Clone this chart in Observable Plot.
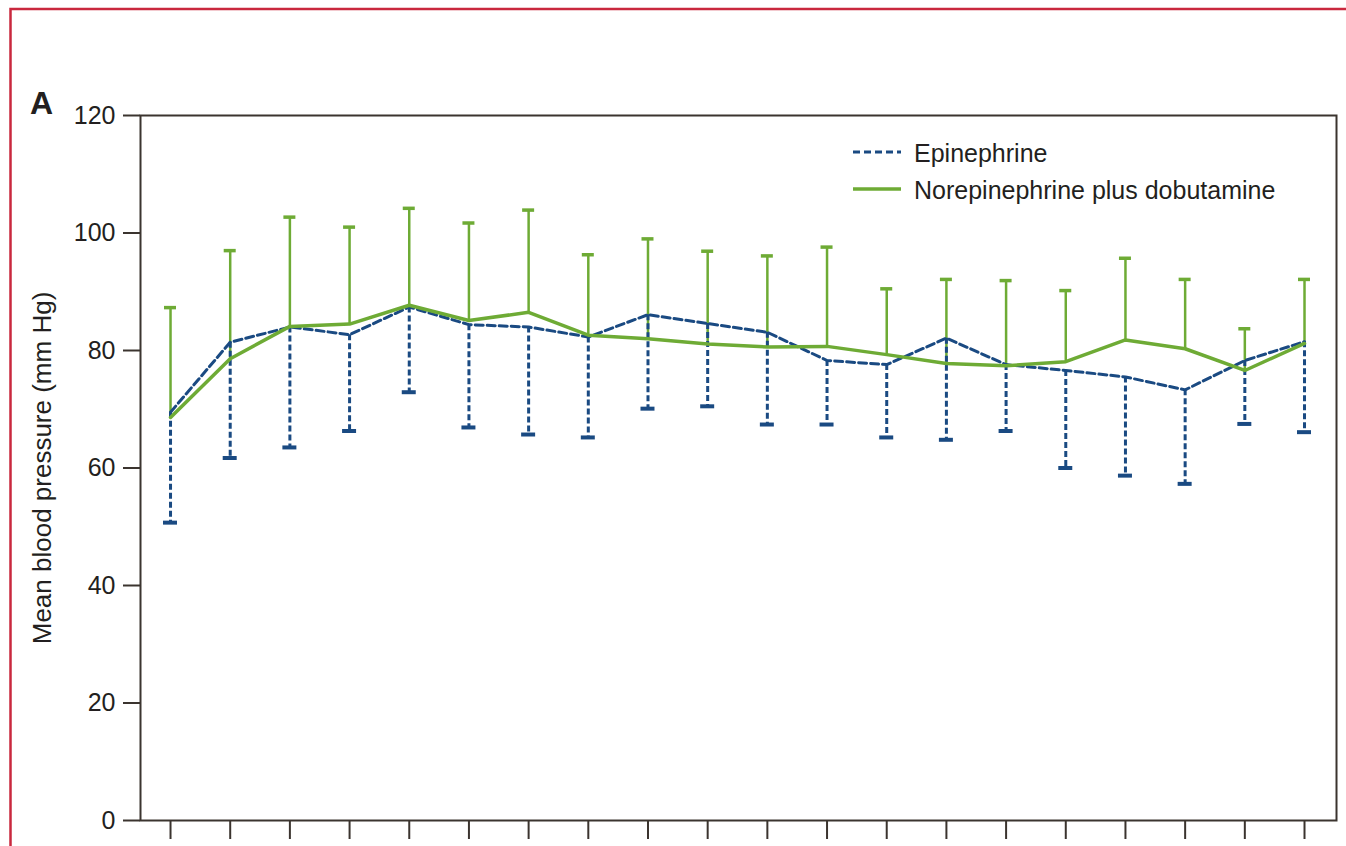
<!DOCTYPE html>
<html>
<head>
<meta charset="utf-8">
<script src="https://cdn.jsdelivr.net/npm/d3@7"></script>
<script src="https://cdn.jsdelivr.net/npm/@observablehq/plot@0.6"></script>
<style>
  html, body { margin: 0; padding: 0; background: #fff; overflow: hidden; }
  #wrap { position: relative; width: 1346px; height: 846px; }
  #wrap > svg.overlay { position: absolute; left: 0; top: 0; pointer-events: none; }
</style>
</head>
<body>
<div id="wrap"></div>
<script>
// Time points (x-axis tick positions; labels fall below the visible area)
const timepoints = [1, 2, 3, 4, 5, 6, 7, 8, 9, 10, 11, 12, 13, 14, 15, 16, 17, 18, 19, 20];

// Epinephrine: mean and lower SD limit (mm Hg)
const epiMean  = [69.5, 81.4, 84.0, 82.7, 87.4, 84.4, 84.0, 82.3, 86.1, 84.6, 83.1, 78.3, 77.6, 82.1, 77.6, 76.6, 75.5, 73.3, 78.3, 81.5];
const epiLower = [50.7, 61.7, 63.5, 66.3, 72.9, 66.9, 65.7, 65.2, 70.1, 70.5, 67.4, 67.4, 65.2, 64.8, 66.3, 60.0, 58.7, 57.3, 67.5, 66.1];

// Norepinephrine plus dobutamine: mean and upper SD limit (mm Hg)
const nordMean  = [68.6, 78.6, 84.1, 84.5, 87.7, 85.1, 86.5, 82.6, 82.0, 81.1, 80.6, 80.7, 79.3, 77.8, 77.4, 78.1, 81.8, 80.3, 76.6, 81.2];
const nordUpper = [87.3, 97.0, 102.7, 101.0, 104.2, 101.7, 103.9, 96.3, 99.0, 96.9, 96.1, 97.6, 90.5, 92.1, 91.9, 90.2, 95.7, 92.1, 83.7, 92.1];

const yTicks = [0, 20, 40, 60, 80, 100, 120];
const seriesNames = ["Epinephrine", "Norepinephrine plus dobutamine"];
const yTitle = "Mean blood pressure (mm Hg)";
const panelLabel = "A";

const blue = "#1a4a82";
const green = "#6eab35";
const ink = "#231f20";
const axisInk = "#3b342f";
const font = "'Liberation Sans', Arial, sans-serif";

const rows = timepoints.map((t, i) => ({
  t,
  epiMean: epiMean[i], epiLower: epiLower[i],
  nordMean: nordMean[i], nordUpper: nordUpper[i]
}));

const chart = Plot.plot({
  width: 1346,
  height: 846,
  marginLeft: 140,
  marginRight: 10,
  marginTop: 115,
  marginBottom: 26,
  style: { fontFamily: font, fontSize: "25px", color: ink, background: "transparent", overflow: "visible" },
  // half a step of room on either side of the first and last time point
  x: { type: "linear", domain: [0.497, 20.536] },
  y: { domain: [0, 120] },
  marks: [
    Plot.axisY({ ticks: yTicks, tickSize: 17, tickPadding: 8, stroke: axisInk, strokeWidth: 2, label: null, fill: ink }),
    Plot.axisX({ ticks: timepoints, tickSize: 19, tickFormat: () => "", stroke: axisInk, strokeWidth: 2, label: null }),
    Plot.frame({ stroke: axisInk, strokeWidth: 2 }),
    Plot.text([yTitle], {
      frameAnchor: "left", rotate: -90, dx: -98, lineAnchor: "middle", textAnchor: "middle",
      fontSize: 26, fill: ink
    }),

    // Norepinephrine plus dobutamine: upper error bars with caps
    Plot.ruleX(rows, { x: "t", y1: "nordMean", y2: "nordUpper", stroke: green, strokeWidth: 2.5 }),
    Plot.ruleY(rows, { x1: "t", x2: "t", y: "nordUpper", stroke: green, strokeWidth: 3.5, insetLeft: -6, insetRight: -6 }),

    // Epinephrine: lower dashed error bars with caps
    Plot.ruleX(rows, { x: "t", y1: "epiMean", y2: "epiLower", stroke: blue, strokeWidth: 3, strokeDasharray: "6,3" }),
    Plot.ruleY(rows, { x1: "t", x2: "t", y: "epiLower", stroke: blue, strokeWidth: 4, insetLeft: -7, insetRight: -7 }),

    // Mean lines
    Plot.line(rows, { x: "t", y: "epiMean", stroke: blue, strokeWidth: 3, strokeDasharray: "8,4" }),
    Plot.line(rows, { x: "t", y: "nordMean", stroke: green, strokeWidth: 3.5 })
  ]
});

const wrap = document.getElementById("wrap");
wrap.appendChild(chart);

// Page frame, panel letter and legend
const ov = d3.select(wrap).append("svg")
  .attr("class", "overlay")
  .attr("width", 1346).attr("height", 846)
  .style("font-family", font);

ov.append("path")
  .attr("d", "M10.5,846V9H1346")
  .attr("fill", "none")
  .attr("stroke", "#c9283e")
  .attr("stroke-width", 2.5);

ov.append("text")
  .attr("x", 30).attr("y", 114)
  .attr("font-size", 32).attr("font-weight", "bold")
  .attr("fill", ink)
  .text(panelLabel);

const legendStyles = [
  { stroke: blue, dash: "7,4", width: 3 },
  { stroke: green, dash: null, width: 3.5 }
];
const leg = ov.append("g").attr("transform", "translate(853,152)");
seriesNames.forEach((name, i) => {
  const g = leg.append("g").attr("transform", `translate(0,${i * 37})`);
  g.append("line")
    .attr("x1", 0).attr("x2", 48).attr("y1", 0).attr("y2", 0)
    .attr("stroke", legendStyles[i].stroke)
    .attr("stroke-width", legendStyles[i].width)
    .attr("stroke-dasharray", legendStyles[i].dash);
  g.append("text")
    .attr("x", 61).attr("y", 10)
    .attr("font-size", 25)
    .attr("fill", ink)
    .text(name);
});
</script>
</body>
</html>
